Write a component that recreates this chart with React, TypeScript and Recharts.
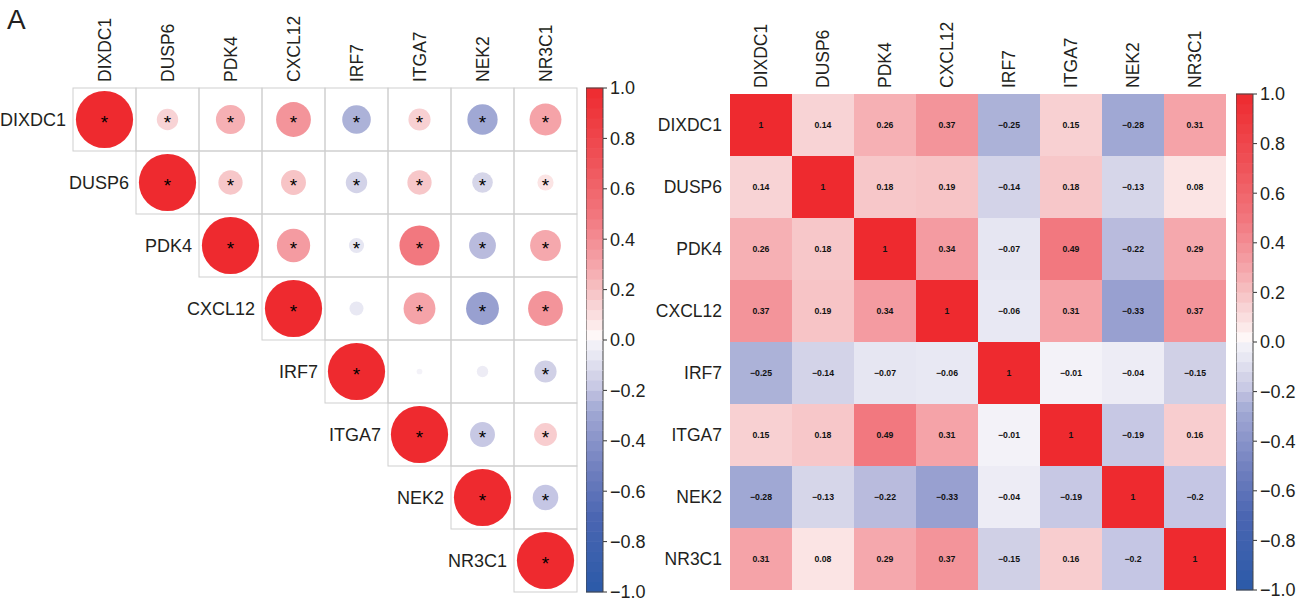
import React from 'react';
import { ScatterChart, Scatter, XAxis, YAxis } from 'recharts';

const genes = ['DIXDC1', 'DUSP6', 'PDK4', 'CXCL12', 'IRF7', 'ITGA7', 'NEK2', 'NR3C1'];
const rowDIXDC1 = [1, 0.14, 0.26, 0.37, -0.25, 0.15, -0.28, 0.31];
const rowDUSP6 = [0.14, 1, 0.18, 0.19, -0.14, 0.18, -0.13, 0.08];
const rowPDK4 = [0.26, 0.18, 1, 0.34, -0.07, 0.49, -0.22, 0.29];
const rowCXCL12 = [0.37, 0.19, 0.34, 1, -0.06, 0.31, -0.33, 0.37];
const rowIRF7 = [-0.25, -0.14, -0.07, -0.06, 1, -0.01, -0.04, -0.15];
const rowITGA7 = [0.15, 0.18, 0.49, 0.31, -0.01, 1, -0.19, 0.16];
const rowNEK2 = [-0.28, -0.13, -0.22, -0.33, -0.04, -0.19, 1, -0.2];
const rowNR3C1 = [0.31, 0.08, 0.29, 0.37, -0.15, 0.16, -0.2, 1];
const corrRows = [rowDIXDC1, rowDUSP6, rowPDK4, rowCXCL12, rowIRF7, rowITGA7, rowNEK2, rowNR3C1];
const notSignificant = [['CXCL12', 'IRF7'], ['IRF7', 'ITGA7'], ['IRF7', 'NEK2']];
const colorbarTicks = [-1, -0.8, -0.6, -0.4, -0.2, 0, 0.2, 0.4, 0.6, 0.8, 1];
const geneIdx = [0, 1, 2, 3, 4, 5, 6, 7];

const redStops: [number, number[]][] = [
  [0, [255, 255, 255]], [0.04, [252, 239, 239]], [0.08, [251, 228, 228]], [0.15, [248, 208, 210]],
  [0.19, [247, 196, 198]], [0.3, [245, 165, 170]], [0.37, [243, 148, 154]], [0.49, [242, 120, 127]],
  [0.7, [239, 84, 90]], [1, [238, 42, 47]],
];
const blueStops: [number, number[]][] = [
  [0, [255, 255, 255]], [0.01, [243, 242, 248]], [0.07, [230, 230, 242]], [0.15, [208, 208, 230]],
  [0.2, [197, 198, 228]], [0.22, [185, 187, 221]], [0.25, [172, 178, 216]], [0.28, [160, 168, 212]],
  [0.33, [152, 160, 208]], [0.5, [115, 130, 192]], [0.7, [75, 102, 178]], [1, [43, 90, 168]],
];

function colorOf(v: number): string {
  const stops = v >= 0 ? redStops : blueStops;
  const a = Math.min(1, Math.abs(v));
  for (let k = 1; k < stops.length; k++) {
    const [t1, c1] = stops[k];
    const [t0, c0] = stops[k - 1];
    if (a <= t1) {
      const f = t1 === t0 ? 0 : (a - t0) / (t1 - t0);
      const c = c0.map((x, i) => Math.round(x + (c1[i] - x) * f));
      return `rgb(${c[0]},${c[1]},${c[2]})`;
    }
  }
  const c = stops[stops.length - 1][1];
  return `rgb(${c[0]},${c[1]},${c[2]})`;
}

const isSig = (a: string, b: string) =>
  !notSignificant.some(([p, q]) => (p === a && q === b) || (p === b && q === a));

const upperData: any[] = [];
const fullData: any[] = [];
corrRows.forEach((row, i) => {
  row.forEach((r, j) => {
    fullData.push({ xi: j, yi: i, r });
    if (j >= i) upperData.push({ xi: j, yi: i, r, sig: isSig(genes[i], genes[j]) });
  });
});

const N_BINS = 50;
const bins: { x: number; y: number; c: string; k: number }[] = [];
for (let k = 0; k < N_BINS; k++) {
  const mid = -1 + (k + 0.5) * (2 / N_BINS);
  bins.push({ x: 0.5, y: mid, c: colorOf(mid), k });
}

const TXT = '#231f20';
const FONT = '"Liberation Sans", Arial, Helvetica, sans-serif';
const L_LEFT = 73;
const L_TOP = 88;
const L_CELL = 63;
const R_LEFT = 90;
const R_TOP = 94;
const R_CELL = 62;
const BAR_W = 17;
const fmt = (v: number) => (v === 1 ? '1' : String(v).replace('-', '\u2212'));

const ColTick = (top: number) => (p: any) => (
  <text x={p.x} y={top - 6} dy="0.36em" transform={`rotate(-90 ${p.x} ${top - 6})`}
    textAnchor="start" fontSize={17.5} fill={TXT} fontFamily={FONT}>
    {genes[p.payload.value]}
  </text>
);

const LeftRowTick = (p: any) => (
  <text x={L_LEFT + p.payload.value * L_CELL - 7} y={p.y} dy="0.36em" textAnchor="end"
    fontSize={18} fill={TXT} fontFamily={FONT}>
    {genes[p.payload.value]}
  </text>
);

const RightRowTick = (p: any) => (
  <text x={R_LEFT - 8} y={p.y} dy="0.36em" textAnchor="end" fontSize={17.5} fill={TXT} fontFamily={FONT}>
    {genes[p.payload.value]}
  </text>
);

const CircleShape = (p: any) => {
  const { cx, cy, payload } = p;
  const rad = Math.sqrt(Math.abs(payload.r)) * 28.6;
  return (
    <g>
      <rect x={cx - L_CELL / 2} y={cy - L_CELL / 2} width={L_CELL} height={L_CELL} fill="none" stroke="#cfcfcf" strokeWidth={1} />
      <circle cx={cx} cy={cy} r={rad} fill={colorOf(payload.r)} />
      {payload.sig ? (
        <text x={cx} y={cy + 9.5} textAnchor="middle" fontSize={19} fill="#000" fontFamily={FONT}>*</text>
      ) : null}
    </g>
  );
};

const CellShape = (p: any) => {
  const { cx, cy, payload } = p;
  return (
    <g>
      <rect x={cx - R_CELL / 2} y={cy - R_CELL / 2} width={R_CELL} height={R_CELL} fill={colorOf(payload.r)} />
      <text x={cx} y={cy} dy="0.36em" textAnchor="middle" fontSize={8.7} fontWeight="bold" fill="#111" fontFamily={FONT}>
        {fmt(payload.r)}
      </text>
    </g>
  );
};

const BinShape = (binH: number) => (p: any) => {
  const { cx, cy, payload } = p;
  const x0 = cx - BAR_W / 2;
  const x1 = cx + BAR_W / 2;
  const y0 = cy - binH / 2;
  const y1 = cy + binH / 2;
  return (
    <g>
      <rect x={x0} y={y0 - 0.3} width={BAR_W} height={binH + 0.6} fill={payload.c} />
      <line x1={x0} x2={x0} y1={y0} y2={y1} stroke="#444" strokeWidth={1} />
      <line x1={x1} x2={x1} y1={y0} y2={y1} stroke="#444" strokeWidth={1} />
      {payload.k === 0 ? <line x1={x0} x2={x1} y1={y1} y2={y1} stroke="#444" strokeWidth={1} /> : null}
      {payload.k === N_BINS - 1 ? <line x1={x0} x2={x1} y1={y0} y2={y0} stroke="#444" strokeWidth={1} /> : null}
    </g>
  );
};

const ColorBar = ({ top, bottom }: { top: number; bottom: number }) => {
  const binH = (602 - top - bottom) / N_BINS;
  return (
    <ScatterChart width={76} height={602} margin={{ top, bottom, left: 0, right: 0 }}>
      <XAxis type="number" dataKey="x" domain={[0, 1]} hide />
      <YAxis type="number" dataKey="y" domain={[-1, 1]} ticks={colorbarTicks} interval={0} orientation="right" width={76 - BAR_W}
        axisLine={false} tickSize={4} tickMargin={3} tickLine={{ stroke: '#333' }}
        tick={{ fill: TXT, fontSize: 18, fontFamily: FONT }}
        tickFormatter={(v: number) => v.toFixed(1).replace('-', '\u2212')} />
      <Scatter data={bins} shape={BinShape(binH)} isAnimationActive={false} />
    </ScatterChart>
  );
};

export default function App() {
  return (
    <div style={{ position: 'absolute', left: 0, top: 0, width: 1312, height: 602, background: '#fff', fontFamily: FONT }}>
      <div style={{ position: 'absolute', left: 7, top: 4, fontSize: 28, lineHeight: '32px', color: TXT, fontFamily: FONT }}>A</div>
      <div style={{ position: 'absolute', left: 0, top: 0 }}>
        <ScatterChart width={600} height={602} margin={{ top: 0, left: 0, right: 23, bottom: 10 }}>
          <XAxis type="number" dataKey="xi" domain={[-0.5, 7.5]} ticks={geneIdx} interval={0} orientation="top"
            height={L_TOP} axisLine={false} tickLine={false} tick={ColTick(L_TOP)} />
          <YAxis type="number" dataKey="yi" domain={[-0.5, 7.5]} ticks={geneIdx} interval={0} reversed
            width={L_LEFT} axisLine={false} tickLine={false} tick={LeftRowTick} />
          <Scatter data={upperData} shape={CircleShape} isAnimationActive={false} />
        </ScatterChart>
      </div>
      <div style={{ position: 'absolute', left: 586, top: 0 }}>
        <ColorBar top={88} bottom={10} />
      </div>
      <div style={{ position: 'absolute', left: 640, top: 0 }}>
        <ScatterChart width={600} height={602} margin={{ top: 0, left: 0, right: 14, bottom: 12 }}>
          <XAxis type="number" dataKey="xi" domain={[-0.5, 7.5]} ticks={geneIdx} interval={0} orientation="top"
            height={R_TOP} axisLine={false} tickLine={false} tick={ColTick(R_TOP)} />
          <YAxis type="number" dataKey="yi" domain={[-0.5, 7.5]} ticks={geneIdx} interval={0} reversed
            width={R_LEFT} axisLine={false} tickLine={false} tick={RightRowTick} />
          <Scatter data={fullData} shape={CellShape} isAnimationActive={false} />
        </ScatterChart>
      </div>
      <div style={{ position: 'absolute', left: 1236, top: 0 }}>
        <ColorBar top={94} bottom={12} />
      </div>
    </div>
  );
}
